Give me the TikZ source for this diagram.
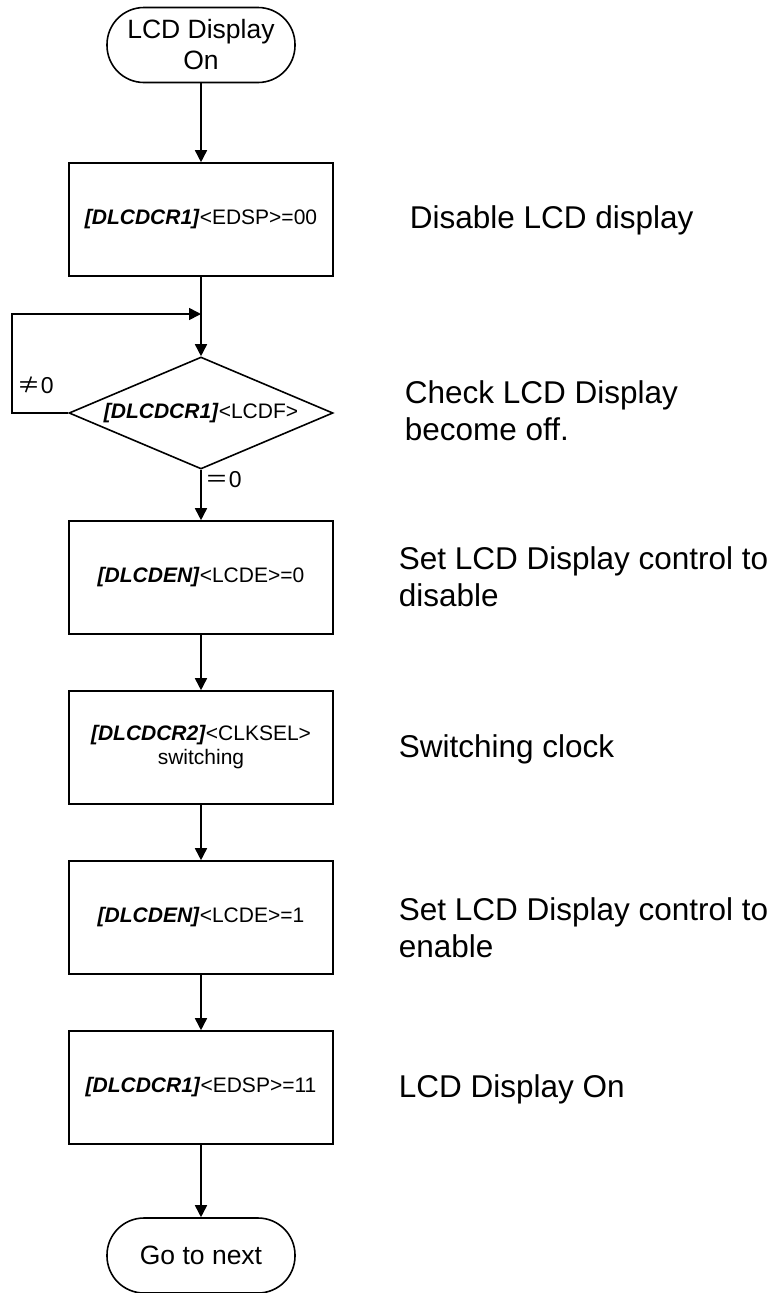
\documentclass[tikz,border=0pt]{standalone}
\usepackage{fontspec}
\setmainfont{Liberation Sans}
\newfontfamily\cjk{Noto Sans CJK JP}
\usetikzlibrary{arrows.meta,shapes.geometric}
\newcommand{\reg}[1]{\textbf{\textit{#1}}}
\begin{document}
\begin{tikzpicture}[x=1pt,y=-1pt,line width=1.6pt,
  term/.style={draw,rounded corners=37pt,minimum width=188pt,minimum height=75pt,inner sep=0pt,align=center,font=\fontsize{26.5}{31}\selectfont},
  proc/.style={draw,minimum width=264pt,minimum height=113pt,inner sep=0pt,align=center,font=\fontsize{21}{24}\selectfont},
  decision/.style={draw,diamond,aspect=2.357,minimum width=264pt,minimum height=112pt,inner sep=0pt,font=\fontsize{21}{24}\selectfont},
  note/.style={anchor=base west,align=left,inner sep=0pt,font=\fontsize{31.5}{37}\selectfont},
  lbl/.style={anchor=base west,inner sep=0pt,font=\fontsize{23}{26}\selectfont},
  arr/.style={-{Triangle[length=12pt,width=12pt]}}]
\useasboundingbox (0,0) rectangle (778,1293);

\node[term] (start) at (201,45) {LCD Display\\On};
\node[proc] (b1) at (201,219.5) {\reg{[DLCDCR1]}<EDSP>=00};
\node[decision] (d) at (201,413) {\makebox[0pt]{\reg{[DLCDCR1]}<LCDF>}};
\node[proc] (b2) at (201,577.5) {\reg{[DLCDEN]}<LCDE>=0};
\node[proc] (b3) at (201,747.5) {\reg{[DLCDCR2]}<CLKSEL>\\switching};
\node[proc] (b4) at (201,917.5) {\reg{[DLCDEN]}<LCDE>=1};
\node[proc] (b5) at (201,1087.5) {\reg{[DLCDCR1]}<EDSP>=11};
\node[term] (end) at (201,1255.5) {Go to next};

\coordinate (j) at (201,314);
\coordinate (lc) at (12,314);

\draw[arr] (start.south) -- (b1.north);
\draw (b1.south) -- (j);
\draw[arr] (j) -- (d.north);
\draw[arr] (d.west) -| (lc) -- (j);
\draw[arr] (d.south) -- (b2.north);
\draw[arr] (b2.south) -- (b3.north);
\draw[arr] (b3.south) -- (b4.north);
\draw[arr] (b4.south) -- (b5.north);
\draw[arr] (b5.south) -- (end.north);

\node[lbl] (ne) at (17,393) {{\cjk ≠}0};
\node[lbl] (eq) at (205,487) {{\cjk ＝}0};

\node[note] (n1) at (409,228) {Disable LCD display};
\node[note] (n2) at (404,440) {Check LCD Display\\become off.};
\node[note] (n3) at (398,606) {Set LCD Display control to\\disable};
\node[note] (n4) at (398,757) {Switching clock};
\node[note] (n5) at (398,957) {Set LCD Display control to\\enable};
\node[note] (n6) at (398,1097) {LCD Display On};
\end{tikzpicture}
\end{document}
